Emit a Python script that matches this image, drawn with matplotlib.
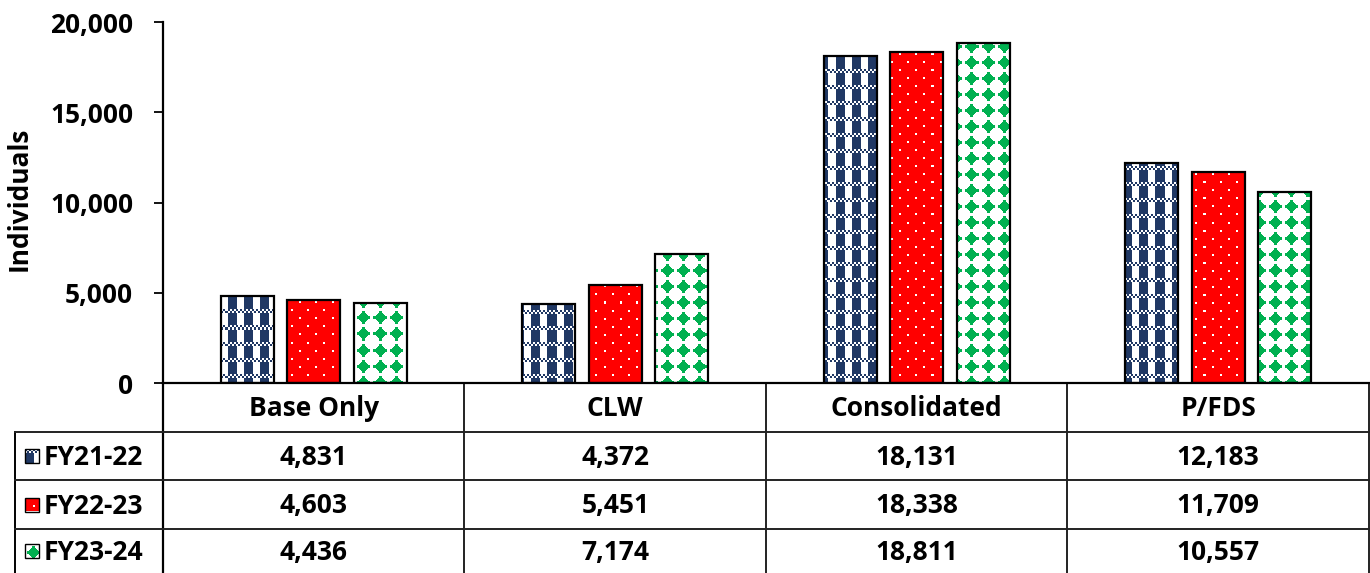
import numpy as np
import matplotlib
matplotlib.use('Agg')
import matplotlib.pyplot as plt
from matplotlib.patches import Rectangle

plt.rcParams['font.family'] = ['Open Sans', 'DejaVu Sans']
plt.rcParams['font.weight'] = 'bold'

categories = ['Base Only', 'CLW', 'Consolidated', 'P/FDS']
series = ['FY21-22', 'FY22-23', 'FY23-24']
fy21_22 = [4831, 4372, 18131, 12183]
fy22_23 = [4603, 5451, 18338, 11709]
fy23_24 = [4436, 7174, 18811, 10557]
yticks = [0, 5000, 10000, 15000, 20000]

NAVY = '#203864'
RED = '#ff0000'
GREEN = '#00b050'

W_PX, H_PX = 1370, 573
AX_L, AX_R, AX_T, AX_B = 163, 1369, 22, 383
FS = 19


def hex_rgb(c):
    return np.array(matplotlib.colors.to_rgb(c))


def pattern(kind, h, w):
    yy, xx = np.mgrid[0:h, 0:w]
    img = np.ones((h, w, 3))
    if kind == 0:
        band = (yy % 16) < 4
        checker = ((xx // 2 + yy // 2) % 2) == 0
        cols = (xx % 16) < 9
        mask = np.where(band, checker, cols)
        img[mask] = hex_rgb(NAVY)
    elif kind == 1:
        img[:] = hex_rgb(RED)
        ry, rx = yy % 16, xx % 16
        dot = ((ry < 2) & (rx < 2)) | ((ry >= 8) & (ry < 10) & (((xx + 8) % 16) < 2))
        img[dot] = 1.0
    else:
        dy = np.abs(yy % 16 - 8)
        dx = np.abs(xx % 16 - 8)
        mask = ((dx + dy) <= 6) | ((dx <= 1) & (dy <= 6)) | ((dy <= 1) & (dx <= 6))
        img[mask] = hex_rgb(GREEN)
    return img


fig = plt.figure(figsize=(W_PX / 100, H_PX / 100), dpi=100)
ax = fig.add_axes([AX_L / W_PX, 1 - AX_B / H_PX,
                   (AX_R - AX_L) / W_PX, (AX_B - AX_T) / H_PX])
ax.set_xlim(0, 4)
ax.set_ylim(0, 20000)

x = np.arange(len(categories)) + 0.5
offs = [-0.221, 0, 0.221]
bw = 0.176
hpx, wpx = AX_B - AX_T, AX_R - AX_L
for k, vals in enumerate([fy21_22, fy22_23, fy23_24]):
    bars = ax.bar(x + offs[k], vals, bw, facecolor='none', edgecolor='black',
                  linewidth=1.6, zorder=3)
    img = pattern(k, hpx, wpx)
    for b in bars:
        im = ax.imshow(img, extent=(0, 4, 0, 20000), aspect='auto',
                       interpolation='nearest', zorder=2)
        im.set_clip_path(b)

ax.set_yticks(yticks)
ax.set_yticklabels([f'{v:,}' for v in yticks], fontsize=FS, fontweight='bold')
ax.tick_params(axis='y', length=6.5, width=1.3, pad=15)
ax.set_xticks([])
for s in ['top', 'right']:
    ax.spines[s].set_visible(False)
ax.spines['left'].set_linewidth(1.6)
ax.spines['bottom'].set_linewidth(1.6)

# data table below the chart
tab = fig.add_axes([0, 0, 1, 1], zorder=-1)
tab.set_xlim(0, W_PX)
tab.set_ylim(H_PX, 0)
tab.axis('off')

lw = 1.4
col_w = (AX_R - AX_L) / 4
rows_y = [383, 432, 480, 529, 577]
tab.plot([AX_L, AX_L], [AX_B, H_PX], color='black', lw=1.6)
tab.plot([15, 15], [432, H_PX], color='black', lw=lw)
for i in range(1, 5):
    xb = AX_L + col_w * i
    tab.plot([xb, xb], [AX_B, H_PX], color='#222222', lw=lw)
tab.plot([15, AX_R], [432, 432], color='#222222', lw=lw)
tab.plot([15, AX_R], [480, 480], color='#222222', lw=lw)
tab.plot([15, AX_R], [529, 529], color='#222222', lw=lw)

for i, c in enumerate(categories):
    tab.text(AX_L + col_w * (i + 0.5), 408, c, ha='center', va='center',
             fontsize=FS, fontweight='bold')

for r, (name, vals) in enumerate(zip(series, [fy21_22, fy22_23, fy23_24])):
    yc = (rows_y[r + 1] + rows_y[r + 2]) / 2 if r < 2 else 551
    sw = Rectangle((25, yc - 7), 14, 14, facecolor='none', edgecolor='black',
                   lw=1.0, zorder=3)
    tab.add_patch(sw)
    simg = pattern(r, 14, 14)
    im = tab.imshow(simg, extent=(25, 39, yc + 7, yc - 7), aspect='auto',
                    interpolation='nearest', zorder=2)
    im.set_clip_path(sw)
    tab.text(44, yc + 1.5, name, ha='left', va='center', fontsize=FS,
             fontweight='bold')
    for i, v in enumerate(vals):
        tab.text(AX_L + col_w * (i + 0.5), yc + 1.5, f'{v:,}', ha='center',
                 va='center', fontsize=FS, fontweight='bold')

tab.text(19, 199, 'Individuals', rotation=90, ha='center', va='center',
         fontsize=FS, fontweight='bold')

fig.savefig('out.png', dpi=100)
